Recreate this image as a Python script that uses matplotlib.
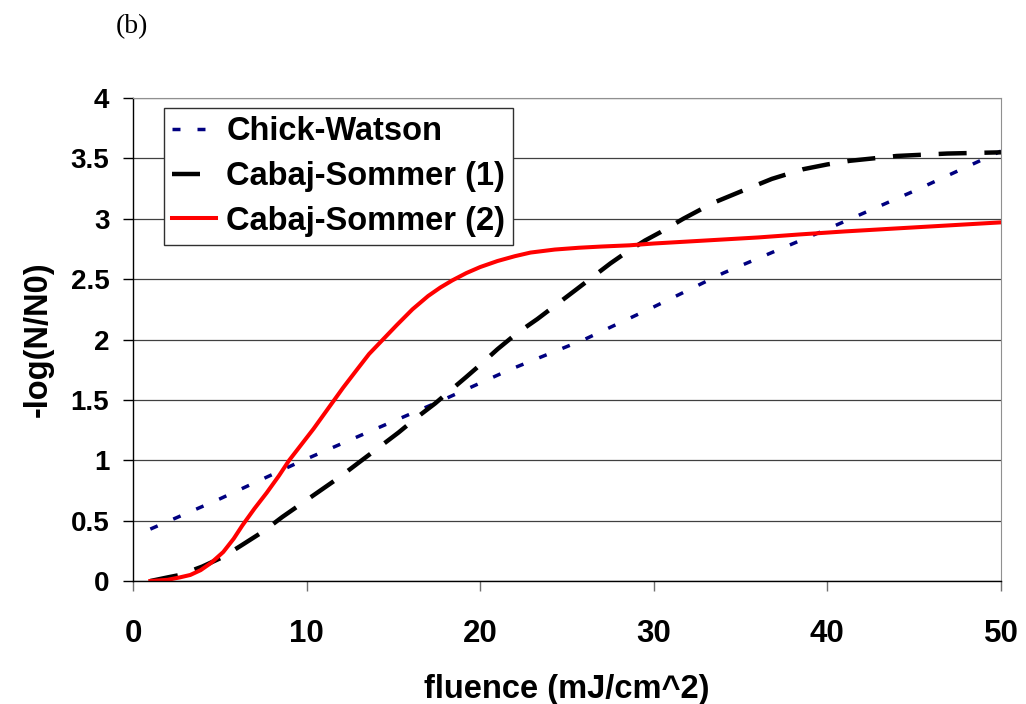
import matplotlib
matplotlib.use("Agg")
import matplotlib.pyplot as plt

plt.rcParams['font.family'] = ['Liberation Sans', 'DejaVu Sans']
plt.rcParams['font.weight'] = 'bold'

# inactivation curves, -log(N/N0) vs fluence
chick_x = [1, 5, 9.5, 13.5, 17.7, 21.7, 26, 30, 34, 39.6, 45, 50]
chick_y = [0.43, 0.68, 0.98, 1.23, 1.49, 1.75, 2.0, 2.27, 2.55, 2.89, 3.23, 3.56]

cs1_x = [1, 2, 2.7, 4, 5.2, 6.3, 7.5, 8.6, 9.8, 10.9, 11.9, 13, 14.2, 15.3,
         16.4, 17.4, 18.3, 19.2, 20, 21, 22.1, 23.3, 24.4, 25.5, 26.5, 27.5,
         28.5, 29.5, 30.4, 31.7, 33.4, 35, 36.8, 38.6, 40, 41.3, 44, 46.9, 50]
cs1_y = [0, 0.03, 0.05, 0.12, 0.2, 0.3, 0.41, 0.53, 0.65, 0.76, 0.86, 0.98,
         1.11, 1.23, 1.36, 1.47, 1.58, 1.69, 1.79, 1.92, 2.05, 2.17, 2.29, 2.41,
         2.52, 2.63, 2.73, 2.82, 2.89, 3.0, 3.13, 3.225, 3.33, 3.41, 3.45, 3.48,
         3.52, 3.54, 3.55]

cs2_x = [1, 2, 2.7, 3.3, 3.9, 4.5, 5.2, 5.8, 6.3, 7.0, 7.7, 8.4, 9.0, 9.7,
         10.4, 11.3, 12.1, 12.9, 13.6, 14.4, 15.2, 16.1, 17.0, 17.7, 18.4,
         19.2, 20, 21, 22, 22.9, 24.3, 25.7, 27, 28.6, 30, 33, 36, 38.4, 41,
         44, 47, 50]
cs2_y = [0, 0.01, 0.03, 0.05, 0.09, 0.15, 0.24, 0.35, 0.46, 0.6, 0.73, 0.87,
         1.0, 1.13, 1.26, 1.44, 1.6, 1.75, 1.88, 2.0, 2.12, 2.25, 2.36, 2.43,
         2.49, 2.55, 2.6, 2.65, 2.69, 2.72, 2.745, 2.76, 2.77, 2.78, 2.795, 2.82,
         2.845, 2.87, 2.895, 2.92, 2.945, 2.97]

labels = ['Chick-Watson', 'Cabaj-Sommer (1)', 'Cabaj-Sommer (2)']

fig = plt.figure(figsize=(10.26, 7.04), dpi=100)
ax = fig.add_axes([0.1296, 0.1747, 0.8460, 0.6861])

ax.plot(chick_x, chick_y, color='#000080', lw=2.5, dashes=(2.3, 4.9), label=labels[0])
ax.plot(cs1_x, cs1_y, color='black', lw=3.2, dashes=(6.3, 4.0), label=labels[1])
ax.plot(cs2_x, cs2_y, color='#ff0000', lw=2.9, label=labels[2])

ax.set_xlim(0, 50)
ax.set_ylim(0, 4)
ax.set_xticks([0, 10, 20, 30, 40, 50])
ax.set_yticks([0, 0.5, 1, 1.5, 2, 2.5, 3, 3.5, 4])
ax.set_yticklabels(['0', '0.5', '1', '1.5', '2', '2.5', '3', '3.5', '4'])
ax.grid(axis='y', color='#404040', lw=0.9)
ax.set_axisbelow(True)

for side in ['top', 'right']:
    ax.spines[side].set_color('#909090')
for side in ['left', 'bottom']:
    ax.spines[side].set_color('black')
    ax.spines[side].set_linewidth(1.0)

ax.tick_params(axis='y', direction='out', length=7, width=1, labelsize=20, pad=10)
ax.tick_params(axis='x', direction='out', length=7, width=1, labelsize=22.5, pad=20,
               color='#707070')

ax.set_xlabel('fluence (mJ/cm^2)', fontsize=23.5, fontweight='bold', labelpad=18)
ax.set_ylabel('-log(N/N0)', fontsize=23.5, fontweight='bold', labelpad=12)

leg = ax.legend(loc='upper left', bbox_to_anchor=(0.036, 0.979), fontsize=23.5,
                frameon=True, fancybox=False, framealpha=1, edgecolor='#303030',
                handlelength=1.35, handletextpad=0.3, borderpad=0.25,
                labelspacing=0.42, borderaxespad=0)
leg.get_frame().set_linewidth(1.0)

fig.text(0.1286, 0.962, '(b)', family='Liberation Serif', fontweight='normal',
         fontsize=20, va='center', ha='center')

fig.savefig('out.png', dpi=100)
